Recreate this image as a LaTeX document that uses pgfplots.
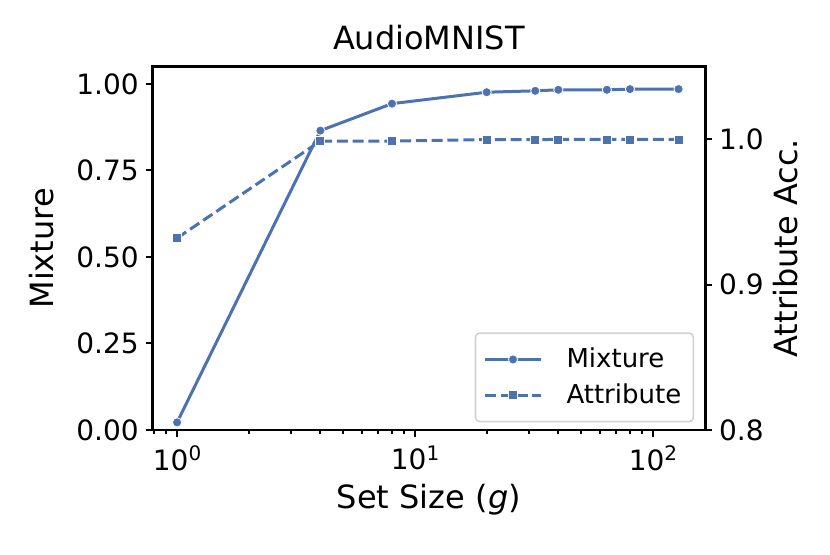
\documentclass[border=0pt]{standalone}
\usepackage{fontspec}
\setmainfont{DejaVu Sans}
\usepackage{pgfplots}
\pgfplotsset{compat=1.18}
\definecolor{sbblue}{RGB}{76,114,176}
\newcommand{\sups}[1]{\raisebox{4.6pt}{\fontsize{10}{12}\selectfont #1}}
\begin{document}
\begin{tikzpicture}
\path[use as bounding box] (-76.35pt,-62pt) rectangle (338.65pt,215pt);
\pgfplotsset{
  every axis/.append style={
    scale only axis, width=276.2pt, height=181.7pt,
    xmode=log, xmin=0.79, xmax=165.5,
    /pgf/number format/assume math mode=true,
    tick align=outside,
    axis line style={line width=1.4pt},
    major tick length=3.5pt, minor tick length=2pt,
    tick style={black, line width=1pt},
    tick label style={font=\fontsize{14}{16.8}\selectfont},
    label style={font=\fontsize{16}{19.2}\selectfont},
  },
}
\begin{axis}[
  ymin=0, ymax=1.05,
  ytick={0,0.25,0.5,0.75,1},
  yticklabel style={/pgf/number format/.cd, fixed, fixed zerofill, precision=2},
  xtick={1,10,100},
  xticklabels={10\sups{0},10\sups{1},10\sups{2}},
  xticklabel style={yshift=-1pt},
  minor xtick={0.8,0.9,2,3,4,5,6,7,8,9,20,30,40,50,60,70,80,90},
  xtick pos=left, ytick pos=left,
  title={AudioMNIST},
  title style={font=\fontsize{16}{19.2}\selectfont, at={(0.5,1)}, anchor=base, yshift=2.5pt},
  xlabel={Set Size (\textit{g})},
  xlabel style={at={(0.5,0)}, anchor=base, yshift=-39.2pt},
  ylabel={Mixture},
  ylabel style={at={(-0.1803,0.5)}, anchor=base},
]
\addplot[sbblue, line width=1.5pt, mark=*, mark size=2.3pt,
  mark options={solid, fill=sbblue, draw=white, line width=0.4pt}]
  coordinates {(1,0.022) (4,0.865) (8,0.943) (20,0.976) (32,0.980) (40,0.983) (64,0.983) (80,0.985) (128,0.985)};
\end{axis}
\begin{axis}[
  ymin=0.8, ymax=1.05,
  ytick={0.8,0.9,1.0},
  yticklabel style={/pgf/number format/.cd, fixed, fixed zerofill, precision=1},
  xmajorticks=false, xminorticks=false,
  ytick pos=right, yticklabel pos=right,
  ylabel={Attribute Acc.},
  ylabel style={at={(1.1671,0.5)}, anchor=base},
  legend style={at={(1,0)}, anchor=south east, xshift=-5.5pt, yshift=3.8pt,
    font=\fontsize{13}{15.6}\selectfont, draw=black!18, line width=0.8pt,
    rounded corners=2pt, inner xsep=4pt, inner ysep=5.5pt, row sep=2.5pt, fill=white,
    /tikz/every odd column/.append style={column sep=10pt}},
  legend cell align=left,
  legend image code/.code={\draw[mark repeat=2, mark phase=2, #1] plot coordinates {(0pt,0pt) (14pt,0pt) (28pt,0pt)};},
]
\addlegendimage{sbblue, line width=1.5pt, mark=*, mark size=2.3pt,
  mark options={solid, fill=sbblue, draw=white, line width=0.4pt}}
\addlegendentry{Mixture}
\addplot[sbblue, line width=1.5pt, dash pattern=on 5.5pt off 2.4pt, mark=square*, mark size=2.25pt,
  mark options={solid, fill=sbblue, draw=white, line width=0.4pt}]
  coordinates {(1,0.932) (4,0.9988) (8,0.9988) (20,0.9998) (32,0.9998) (40,0.9999) (64,0.9999) (80,0.9999) (128,0.9999)};
\addlegendentry{Attribute}
\end{axis}
\end{tikzpicture}
\end{document}
